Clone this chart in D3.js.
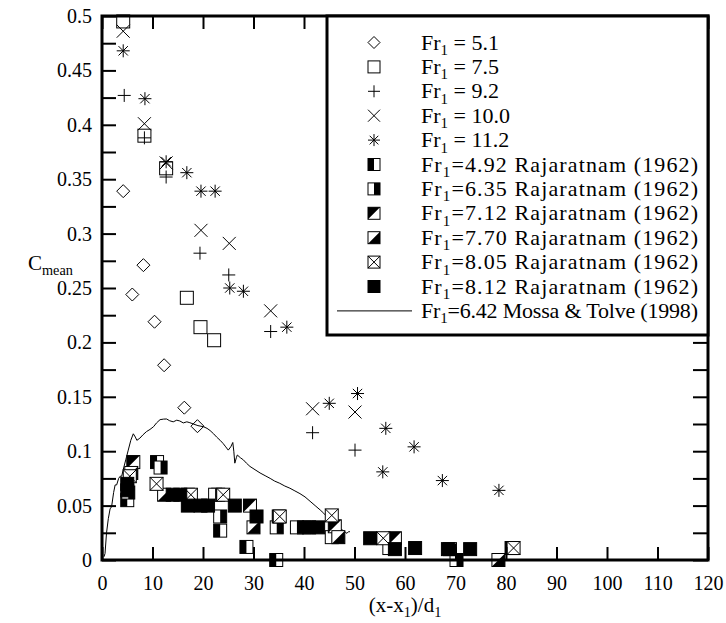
<!DOCTYPE html>
<html>
<head>
<meta charset="utf-8">
<script src="https://cdn.jsdelivr.net/npm/d3@7"></script>
<style>
  html, body { margin: 0; padding: 0; background: #fff; }
  svg { display: block; }
  text { font-family: "Liberation Serif", "Times New Roman", serif; fill: #000; }
</style>
</head>
<body>
<svg id="chart" width="726" height="623"></svg>
<script>
// Present measurements: mean air concentration along the jump, [x/d1, C_mean]
const fr51 = [[4.2,0.339],[8.2,0.271],[6.0,0.244],[10.4,0.219],[12.3,0.179],[16.3,0.140],[18.9,0.123]];
const fr75 = [[4.2,0.495],[8.4,0.390],[12.7,0.360],[16.8,0.241],[19.5,0.214],[22.2,0.202]];
const fr92 = [[4.4,0.427],[8.4,0.388],[12.7,0.352],[19.4,0.282],[25.1,0.262],[33.4,0.210],[41.7,0.117],[50.1,0.101]];
const fr100 = [[4.2,0.486],[8.4,0.401],[12.7,0.365],[19.6,0.303],[25.2,0.291],[33.4,0.229],[41.7,0.139],[50.1,0.136]];
const fr112 = [[4.2,0.468],[8.5,0.424],[12.7,0.366],[16.8,0.356],[19.6,0.339],[22.4,0.339],[25.3,0.250],[28.0,0.247],
               [36.6,0.214],[45.0,0.144],[50.6,0.153],[56.2,0.121],[55.6,0.081],[61.8,0.104],[67.4,0.073],[78.6,0.064]];

// Rajaratnam (1962)
const rj492 = [[5.0,0.055],[10.9,0.090],[23.0,0.060],[23.4,0.027],[28.6,0.012],[34.5,0.000],[40.0,0.030]];
const rj635 = [[5.2,0.062],[11.6,0.085],[22.4,0.060],[23.4,0.040],[34.6,0.030],[38.6,0.030],[45.5,0.021],[56.9,0.011],[70.2,0.000]];
const rj712 = [[6.2,0.090],[17.0,0.060],[29.3,0.050],[35.0,0.040],[46.1,0.031],[58.0,0.020],[81.1,0.011]];
const rj770 = [[5.8,0.080],[12.3,0.060],[30.0,0.030],[46.8,0.021],[68.9,0.010],[78.5,0.000]];
const rj805 = [[5.5,0.077],[10.8,0.070],[17.6,0.060],[24.0,0.060],[35.2,0.040],[45.5,0.041],[55.7,0.020],[81.5,0.011]];
const rj812 = [[5.0,0.070],[5.0,0.064],[14.0,0.060],[15.5,0.060],[17.0,0.050],[19.5,0.050],[21.0,0.050],[26.3,0.050],
               [30.6,0.040],[41.0,0.030],[42.8,0.030],[53.1,0.020],[58.0,0.010],[62.0,0.011],[68.5,0.010],[72.9,0.010]];

// Mossa & Tolve (1998) profile
const mossa = [[0.4,0.003],[0.6,0.006],[0.9,0.025],[1.25,0.038],[1.6,0.047],[1.9,0.049],[2.3,0.062],[2.6,0.069],[2.9,0.069],
  [3.3,0.075],[3.6,0.077],[3.9,0.077],[4.2,0.083],[4.7,0.092],[5.2,0.101],[5.7,0.110],[6.2,0.116],[6.6,0.113],[6.9,0.110],
  [7.5,0.112],[8.1,0.115],[8.8,0.118],[9.5,0.120],[10.2,0.1225],[10.8,0.126],[11.5,0.129],[12.2,0.1295],[12.8,0.1296],
  [13.4,0.128],[14.1,0.127],[14.8,0.1285],[15.4,0.1278],[16.1,0.126],[16.8,0.127],[17.4,0.1262],[18.1,0.125],[19.0,0.1235],
  [20.1,0.1225],[20.8,0.121],[21.4,0.119],[22.1,0.116],[22.7,0.113],[23.4,0.110],[24.0,0.107],[24.5,0.104],[25.0,0.101],
  [25.5,0.104],[25.9,0.108],[26.1,0.100],[26.3,0.089],[26.6,0.094],[26.8,0.0965],[27.4,0.094],[28.0,0.092],[28.6,0.089],
  [29.3,0.086],[30.3,0.083],[31.3,0.080],[32.3,0.0775],[33.3,0.075],[34.2,0.0725],[35.2,0.0705],[36.2,0.068],[37.2,0.066],
  [38.2,0.0635],[39.2,0.061],[40.2,0.058],[41.2,0.054],[42.2,0.050],[43.2,0.046],[43.9,0.043],[44.5,0.040],[45.3,0.036],
  [46.2,0.032],[47.1,0.029],[47.8,0.027],[48.5,0.0245],[48.8,0.026],[49.1,0.026]];

const legendLabels = ["Fr|1| = 5.1","Fr|1| = 7.5","Fr|1| = 9.2","Fr|1| = 10.0","Fr|1| = 11.2",
  "Fr|1|=4.92 Rajaratnam (1962)","Fr|1|=6.35 Rajaratnam (1962)","Fr|1|=7.12 Rajaratnam (1962)",
  "Fr|1|=7.70 Rajaratnam (1962)","Fr|1|=8.05 Rajaratnam (1962)","Fr|1|=8.12 Rajaratnam (1962)",
  "Fr|1|=6.42 Mossa & Tolve (1998)"];

const xTicks = d3.range(0, 121, 10);
const yTicks = d3.range(0, 21).map(i => +(i * 0.025).toFixed(3));

const series = [
  {data: fr51, shape: "diamond"},
  {data: fr75, shape: "square"},
  {data: fr92, shape: "plus"},
  {data: fr100, shape: "cross"},
  {data: fr112, shape: "asterisk"},
  {data: rj492, shape: "halfLeft"},
  {data: rj635, shape: "halfRight"},
  {data: rj712, shape: "triUL"},
  {data: rj770, shape: "triLR"},
  {data: rj805, shape: "boxX"},
  {data: rj812, shape: "filled"}
];

const svg = d3.select("#chart");
const L = 102, R = 708, T = 16, B = 560;
const x = d3.scaleLinear().domain([0, 120]).range([L, R]);
const y = d3.scaleLinear().domain([0, 0.5]).range([B, T]);

// draw one marker of the given shape centred at the group origin
function drawMarker(g, shape, s) {
  const h = s / 2;
  const line = (x1, y1, x2, y2) => g.append("line").attr("x1", x1).attr("y1", y1).attr("x2", x2).attr("y2", y2)
    .attr("stroke", "#000").attr("stroke-width", 1);
  const box = (fill) => g.append("rect").attr("x", -h).attr("y", -h).attr("width", s).attr("height", s)
    .attr("fill", fill).attr("stroke", "#000").attr("stroke-width", 1);
  switch (shape) {
    case "diamond":
      g.append("path").attr("d", `M0,${-h}L${h},0L0,${h}L${-h},0Z`).attr("fill", "none").attr("stroke", "#000");
      break;
    case "square": box("none"); break;
    case "plus": line(-h, 0, h, 0); line(0, -h, 0, h); break;
    case "cross": line(-h, -h, h, h); line(-h, h, h, -h); break;
    case "asterisk": {
      const d = h * 0.72;
      line(-h, 0, h, 0); line(0, -h, 0, h); line(-d, -d, d, d); line(-d, d, d, -d);
      break;
    }
    case "halfLeft":
      box("#fff");
      g.append("rect").attr("x", -h).attr("y", -h).attr("width", h).attr("height", s).attr("fill", "#000");
      break;
    case "halfRight":
      box("#fff");
      g.append("rect").attr("x", 0).attr("y", -h).attr("width", h).attr("height", s).attr("fill", "#000");
      break;
    case "triUL":
      box("#fff");
      g.append("path").attr("d", `M${-h},${-h}L${h},${-h}L${-h},${h}Z`).attr("fill", "#000");
      break;
    case "triLR":
      box("#fff");
      g.append("path").attr("d", `M${h},${-h}L${h},${h}L${-h},${h}Z`).attr("fill", "#000");
      break;
    case "boxX":
      box("#fff"); line(-h, -h, h, h); line(-h, h, h, -h);
      break;
    case "filled": box("#000"); break;
  }
}

// Mossa & Tolve curve
svg.append("path")
  .datum(mossa)
  .attr("d", d3.line().x(d => x(d[0])).y(d => y(d[1])))
  .attr("fill", "none").attr("stroke", "#000").attr("stroke-width", 1);

// data markers
series.forEach(s => {
  svg.append("g").selectAll("g").data(s.data).join("g")
    .attr("transform", d => `translate(${x(d[0])},${y(d[1])})`)
    .each(function () { drawMarker(d3.select(this), s.shape, 13); });
});

// axes with inward ticks
const fontSize = 20;
const gx = svg.append("g").attr("transform", `translate(0,${B})`)
  .call(d3.axisBottom(x).tickValues(xTicks).tickSize(-13).tickPadding(16));
const gy = svg.append("g").attr("transform", `translate(${L},0)`)
  .call(d3.axisLeft(y).tickValues(yTicks).tickSize(-14).tickPadding(10)
    .tickFormat((d, i) => i % 2 === 0 ? String(d) : ""));
const gt = svg.append("g").attr("transform", `translate(0,${T})`)
  .call(d3.axisTop(x).tickValues(xTicks).tickSize(-13).tickFormat(""));
const gr = svg.append("g").attr("transform", `translate(${R},0)`)
  .call(d3.axisRight(y).tickValues(yTicks).tickSize(-15).tickFormat(""));
[gx, gy, gt, gr].forEach(g => {
  g.select(".domain").remove();
  g.selectAll(".tick line").attr("stroke", "#000").attr("stroke-width", 2);
  g.selectAll("text").attr("font-size", fontSize).attr("font-family", "Liberation Serif").attr("fill", "#000");
});
gx.selectAll("text").attr("dy", "0.71em");

// frame
svg.append("rect").attr("x", L).attr("y", T).attr("width", R - L).attr("height", B - T)
  .attr("fill", "none").attr("stroke", "#000").attr("stroke-width", 3);

// text with "|sub|" marked subscripts
function richText(sel, str, size) {
  const parts = str.split("|");
  parts.forEach((p, i) => {
    if (!p) return;
    const sub = i % 2 === 1;
    const t = sel.append("tspan").text(p);
    if (sub) t.attr("font-size", size * 0.68).attr("dy", size * 0.25);
    else if (i > 0) t.attr("dy", -size * 0.25);
  });
}

// axis titles
const xt = svg.append("text").attr("x", (L + R) / 2).attr("y", 612).attr("text-anchor", "middle").attr("font-size", 21);
richText(xt, "(x-x|1|)/d|1|", 21);
const yt = svg.append("text").attr("x", 28).attr("y", 270).attr("font-size", 21);
richText(yt, "C|mean|", 21);

// legend
const lg = svg.append("g");
lg.append("rect").attr("x", 327).attr("y", T).attr("width", R - 327).attr("height", 335 - T)
  .attr("fill", "#fff").attr("stroke", "#000").attr("stroke-width", 3);
const rowY = i => 42.5 + i * 24.4;
legendLabels.forEach((lab, i) => {
  const cy = rowY(i);
  if (i < series.length) {
    const mg = lg.append("g").attr("transform", `translate(374,${cy})`);
    drawMarker(mg, series[i].shape, 12);
  } else {
    lg.append("line").attr("x1", 337).attr("x2", 412).attr("y1", cy).attr("y2", cy)
      .attr("stroke", "#000").attr("stroke-width", 1);
  }
  const t = lg.append("text").attr("x", 421).attr("y", cy + 7).attr("font-size", 22);
  richText(t, lab, 22);
  // long entries are set to a fixed run width
  if (i >= 5) t.attr("textLength", 277).attr("lengthAdjust", "spacing");
});
</script>
</body>
</html>
